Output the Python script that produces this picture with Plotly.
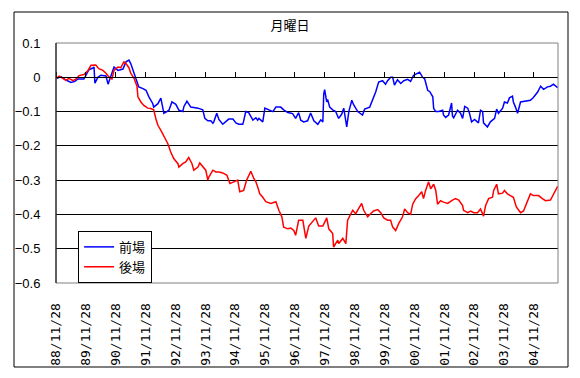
import plotly.graph_objects as go
from datetime import datetime, timedelta

# ---- data (decimal years) ----
front_years = [1988.93, 1989.07, 1989.24, 1989.41, 1989.54, 1989.64, 1989.84, 1989.91, 1990.01, 1990.14,
               1990.18, 1990.21, 1990.31, 1990.41, 1990.58, 1990.65, 1990.75, 1990.85, 1990.98, 1991.15,
               1991.25, 1991.35, 1991.41, 1991.52, 1991.62, 1991.68, 1991.82, 1991.92, 1992.02, 1992.15,
               1992.18, 1992.32, 1992.42, 1992.52, 1992.62, 1992.69, 1992.79, 1992.92, 1993.02, 1993.15,
               1993.19, 1993.29, 1993.42, 1993.66, 1993.82, 1993.89, 1993.99, 1994.09, 1994.16, 1994.19,
               1994.29, 1994.36, 1994.49, 1994.59, 1994.69, 1994.83, 1994.93, 1995.03, 1995.16, 1995.19,
               1995.26, 1995.36, 1995.50, 1995.60, 1995.66, 1995.70, 1995.83, 1995.90, 1996.03, 1996.17,
               1996.27, 1996.43, 1996.53, 1996.67, 1996.83, 1996.93, 1997.03, 1997.10, 1997.20, 1997.33,
               1997.43, 1997.54, 1997.67, 1997.77, 1997.84, 1997.87, 1997.90, 1997.97, 1998.00, 1998.07,
               1998.17, 1998.27, 1998.37, 1998.47, 1998.54, 1998.64, 1998.71, 1998.81, 1998.87, 1999.01,
               1999.17, 1999.24, 1999.41, 1999.51, 1999.61, 1999.71, 1999.84, 1999.94, 2000.01, 2000.11,
               2000.18, 2000.24, 2000.34, 2000.45, 2000.55, 2000.68, 2000.78, 2000.88, 2001.01, 2001.08,
               2001.18, 2001.25, 2001.35, 2001.42, 2001.52, 2001.55, 2001.62, 2001.72, 2001.85, 2001.88,
               2001.95, 2002.05, 2002.15, 2002.18, 2002.22, 2002.35, 2002.45, 2002.52, 2002.59, 2002.69,
               2002.75, 2002.82, 2002.92, 2003.05, 2003.12, 2003.19, 2003.22, 2003.35, 2003.45, 2003.59,
               2003.66, 2003.72, 2003.86, 2003.92, 2004.02, 2004.09, 2004.19, 2004.22, 2004.29, 2004.36,
               2004.46, 2004.56, 2004.69, 2004.79, 2004.89, 2005.03, 2005.13, 2005.23, 2005.36, 2005.46,
               2005.56, 2005.70]
front_vals = [-0.004, 0.002, -0.008, -0.015, -0.012, -0.005, -0.005, 0.006, 0.022, 0.027,
              0.030, -0.017, 0.000, 0.006, 0.004, -0.020, 0.005, 0.030, 0.020, 0.024,
              0.045, 0.050, 0.040, 0.012, -0.015, -0.028, -0.033, -0.038, -0.057, -0.077,
              -0.087, -0.077, -0.061, -0.105, -0.100, -0.096, -0.072, -0.079, -0.096, -0.100,
              -0.085, -0.070, -0.087, -0.090, -0.095, -0.120, -0.127, -0.127, -0.134, -0.130,
              -0.105, -0.123, -0.137, -0.128, -0.122, -0.122, -0.133, -0.137, -0.137, -0.128,
              -0.100, -0.103, -0.125, -0.118, -0.125, -0.120, -0.130, -0.090, -0.095, -0.100,
              -0.087, -0.087, -0.095, -0.103, -0.106, -0.120, -0.103, -0.125, -0.130, -0.127,
              -0.104, -0.127, -0.137, -0.124, -0.130, -0.048, -0.036, -0.072, -0.065, -0.087,
              -0.095, -0.100, -0.120, -0.108, -0.090, -0.145, -0.100, -0.067, -0.080, -0.100,
              -0.110, -0.093, -0.087, -0.067, -0.043, -0.014, -0.010, -0.020, -0.010, 0.000,
              0.000, -0.023, -0.007, -0.018, -0.010, -0.006, -0.012, 0.006, 0.011, 0.015,
              0.000, -0.005, -0.038, -0.042, -0.057, -0.091, -0.100, -0.100, -0.096, -0.110,
              -0.117, -0.110, -0.075, -0.113, -0.118, -0.096, -0.105, -0.120, -0.085, -0.090,
              -0.105, -0.130, -0.123, -0.133, -0.096, -0.100, -0.133, -0.145, -0.130, -0.120,
              -0.093, -0.105, -0.090, -0.072, -0.075, -0.060, -0.055, -0.072, -0.087, -0.105,
              -0.072, -0.070, -0.067, -0.067, -0.059, -0.043, -0.026, -0.035, -0.028, -0.026,
              -0.020, -0.030]

back_years = [1988.93, 1989.01, 1989.14, 1989.24, 1989.34, 1989.48, 1989.58, 1989.68, 1989.84, 1989.98,
              1990.08, 1990.24, 1990.34, 1990.48, 1990.58, 1990.68, 1990.78, 1990.85, 1990.98, 1991.08,
              1991.18, 1991.25, 1991.35, 1991.41, 1991.52, 1991.62, 1991.65, 1991.75, 1991.85, 1991.98,
              1992.08, 1992.18, 1992.25, 1992.32, 1992.42, 1992.52, 1992.65, 1992.75, 1992.85, 1992.99,
              1993.02, 1993.15, 1993.25, 1993.35, 1993.46, 1993.52, 1993.66, 1993.72, 1993.82, 1993.92,
              1993.99, 1994.02, 1994.16, 1994.26, 1994.36, 1994.49, 1994.63, 1994.73, 1994.86, 1994.99,
              1995.06, 1995.19, 1995.29, 1995.36, 1995.43, 1995.53, 1995.60, 1995.66, 1995.73, 1995.83,
              1995.93, 1996.10, 1996.27, 1996.37, 1996.47, 1996.53, 1996.67, 1996.77, 1996.87, 1996.93,
              1997.03, 1997.17, 1997.20, 1997.27, 1997.37, 1997.50, 1997.60, 1997.70, 1997.84, 1997.97,
              1998.04, 1998.17, 1998.20, 1998.34, 1998.37, 1998.51, 1998.61, 1998.67, 1998.84, 1998.94,
              1999.04, 1999.14, 1999.21, 1999.34, 1999.44, 1999.54, 1999.68, 1999.78, 1999.88, 2000.01,
              2000.11, 2000.18, 2000.28, 2000.38, 2000.51, 2000.58, 2000.68, 2000.78, 2000.85, 2000.95,
              2001.05, 2001.15, 2001.21, 2001.28, 2001.38, 2001.45, 2001.55, 2001.62, 2001.68, 2001.78,
              2001.88, 2002.02, 2002.18, 2002.28, 2002.39, 2002.52, 2002.55, 2002.69, 2002.79, 2002.89,
              2003.02, 2003.12, 2003.22, 2003.29, 2003.39, 2003.52, 2003.56, 2003.66, 2003.72, 2003.86,
              2003.92, 2004.02, 2004.12, 2004.22, 2004.32, 2004.39, 2004.46, 2004.56, 2004.69, 2004.79,
              2004.89, 2005.06, 2005.19, 2005.29, 2005.46, 2005.56, 2005.70]
back_vals = [-0.003, 0.003, -0.003, -0.009, -0.003, -0.010, -0.005, 0.005, 0.008, 0.020,
             0.035, 0.036, 0.025, 0.020, 0.012, 0.001, -0.005, 0.020, 0.030, 0.028,
             0.045, 0.040, 0.028, 0.012, -0.003, -0.026, -0.057, -0.072, -0.082, -0.090,
             -0.091, -0.095, -0.120, -0.140, -0.155, -0.170, -0.193, -0.218, -0.237, -0.252,
             -0.262, -0.252, -0.247, -0.234, -0.252, -0.271, -0.262, -0.250, -0.262, -0.271,
             -0.300, -0.292, -0.271, -0.276, -0.276, -0.279, -0.286, -0.310, -0.305, -0.300,
             -0.334, -0.330, -0.300, -0.286, -0.274, -0.295, -0.305, -0.320, -0.340, -0.350,
             -0.363, -0.368, -0.363, -0.388, -0.407, -0.437, -0.442, -0.440, -0.447, -0.461,
             -0.417, -0.417, -0.434, -0.470, -0.434, -0.420, -0.410, -0.434, -0.434, -0.410,
             -0.442, -0.456, -0.495, -0.475, -0.485, -0.470, -0.485, -0.417, -0.388, -0.398,
             -0.384, -0.368, -0.388, -0.407, -0.398, -0.390, -0.386, -0.395, -0.410, -0.417,
             -0.417, -0.437, -0.447, -0.427, -0.407, -0.384, -0.395, -0.400, -0.370, -0.354,
             -0.345, -0.334, -0.354, -0.330, -0.305, -0.325, -0.312, -0.330, -0.370, -0.360,
             -0.364, -0.368, -0.358, -0.354, -0.358, -0.374, -0.388, -0.395, -0.390, -0.395,
             -0.395, -0.384, -0.405, -0.374, -0.354, -0.350, -0.330, -0.312, -0.340, -0.338,
             -0.330, -0.340, -0.345, -0.350, -0.378, -0.388, -0.395, -0.390, -0.360, -0.340,
             -0.345, -0.345, -0.354, -0.360, -0.358, -0.340, -0.318]

tick_dates = ["1988-11-28", "1989-11-28", "1990-11-28", "1991-11-28", "1992-11-28", "1993-11-28",
              "1994-11-28", "1995-11-28", "1996-11-28", "1997-11-28", "1998-11-28", "1999-11-28",
              "2000-11-28", "2001-11-28", "2002-11-28", "2003-11-28", "2004-11-28"]
tick_labels = ["88/11/28", "89/11/28", "90/11/28", "91/11/28", "92/11/28", "93/11/28",
               "94/11/28", "95/11/28", "96/11/28", "97/11/28", "98/11/28", "99/11/28",
               "00/11/28", "01/11/28", "02/11/28", "03/11/28", "04/11/28"]
x_range = ["1988-11-28", "2005-09-18"]
y_min, y_max = -0.6, 0.1
title_text = "月曜日"
name_front = "前場"
name_back = "後場"


def to_date(y):
    yi = int(y)
    return datetime(yi, 1, 1) + timedelta(days=(y - yi) * 365.25)


front_x = [to_date(v) for v in front_years]
back_x = [to_date(v) for v in back_years]

fig = go.Figure()
fig.add_trace(go.Scatter(x=front_x, y=front_vals, mode="lines", name=name_front,
                         line=dict(color="#0000FF", width=1.5)))
fig.add_trace(go.Scatter(x=back_x, y=back_vals, mode="lines", name=name_back,
                         line=dict(color="#FF0000", width=1.5)))
# helper trace so the zero-line category axis is rendered
fig.add_trace(go.Scatter(x=[tick_dates[0]], y=[None], xaxis="x2", showlegend=False,
                         hoverinfo="skip", mode="lines"))

zero_pos = (0 - y_min) / (y_max - y_min)

# the page body adds an 8px margin on every side, so the figure is 16px smaller
fig.update_layout(
    width=564, height=362,
    margin=dict(l=48, r=14, t=35, b=87, autoexpand=False),
    paper_bgcolor="white", plot_bgcolor="white",
    title=dict(text=title_text, x=(290 - 8) / 564, xref="container", xanchor="center",
               y=1 - 17 / 362, yref="container", yanchor="middle",
               font=dict(family="Noto Sans CJK JP", size=13, color="black")),
    showlegend=True,
    legend=dict(x=0.044, y=0.217, xanchor="left", yanchor="top",
                bgcolor="white", bordercolor="black", borderwidth=1,
                font=dict(family="Noto Sans CJK JP", size=13, color="black"),
                tracegroupgap=0, itemwidth=30),
    xaxis=dict(type="date", range=x_range, tickmode="array", tickvals=tick_dates,
               ticktext=tick_labels, tickangle=-90, showgrid=False, zeroline=False,
               showline=False, ticks="outside", ticklen=14, tickcolor="rgba(0,0,0,0)",
               automargin=False,
               tickfont=dict(family="DejaVu Sans Mono", size=13, color="black")),
    xaxis2=dict(type="date", overlaying="x", matches="x", anchor="free", position=zero_pos,
                side="top", tickmode="array", tickvals=tick_dates, showticklabels=False,
                ticks="outside", ticklen=5, tickcolor="black", tickwidth=1, automargin=False,
                showline=True, linecolor="black", linewidth=1, showgrid=False, zeroline=False),
    yaxis=dict(range=[y_min, y_max], dtick=0.1, tick0=0, showgrid=True, gridcolor="black",
               gridwidth=1, zeroline=False, showline=False, automargin=False,
               ticks="outside", ticklen=12, tickcolor="rgba(0,0,0,0)",
               tickfont=dict(family="Liberation Sans", size=13, color="black")),
)

# plot-area frame (grey) and black value axis on the left
fig.add_shape(type="rect", xref="paper", yref="paper", x0=0, x1=1, y0=0, y1=1,
              line=dict(color="#808080", width=1), layer="above")
fig.add_shape(type="line", xref="paper", yref="paper", x0=0, x1=0, y0=0, y1=1,
              line=dict(color="black", width=1), layer="above")
# outer chart border
fig.add_shape(type="rect", xref="paper", yref="paper",
              x0=(14 - 56) / 502, x1=(568 - 56) / 502, y0=(283 - 367) / 240, y1=(283 - 12) / 240,
              line=dict(color="black", width=1), layer="above")

fig.write_html("out.html")
